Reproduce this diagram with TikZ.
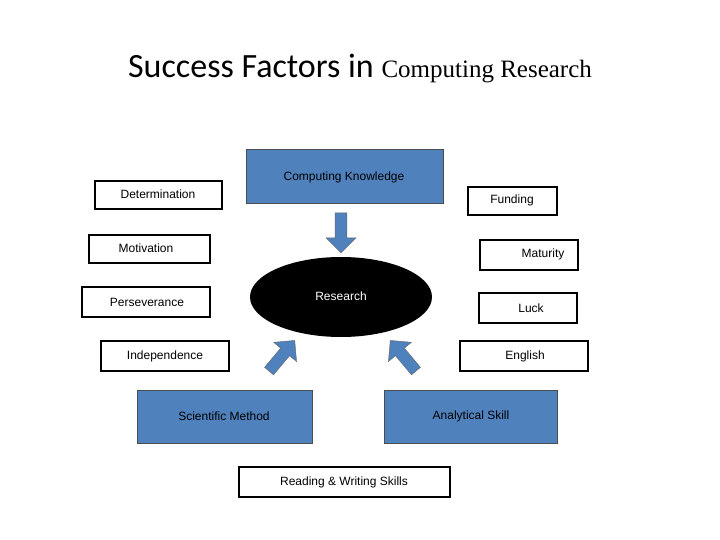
\documentclass[tikz,border=0pt]{standalone}
\usepackage{fontspec}
\setmainfont{Liberation Sans}
\newfontfamily\titlesans{Carlito}
\newfontfamily\titleserif{Liberation Serif}
\usetikzlibrary{shapes.arrows}
\definecolor{bl}{HTML}{4F81BD}
\begin{document}
\begin{tikzpicture}[x=1pt,y=-1pt,
 wbox/.style={draw=black,line width=1.2pt,fill=white},
 bbox/.style={draw=black!70,line width=1pt,fill=bl},
 lbl/.style={font=\fontsize{12}{14}\selectfont,inner sep=0pt},
 arr/.style={single arrow,draw=black!60,fill=bl,minimum height=40,single arrow head extend=5,minimum width=30,inner sep=3pt}]
\useasboundingbox (0,0) rectangle (720,540);
\node[inner sep=0pt,anchor=base] (title) at (360,78) {\titlesans\fontsize{34}{38}\selectfont Success Factors in \titleserif\fontsize{25}{30}\selectfont Computing Research};
\draw[bbox] (246,150) rectangle (443,204); \node[lbl] (ck) at (344,177) {Computing Knowledge};
\draw[wbox] (95,181) rectangle (222,209); \node[lbl] (det) at (158,194) {Determination};
\draw[wbox] (468,187) rectangle (557,215); \node[lbl] (fun) at (512,200) {Funding};
\draw[wbox] (89,235) rectangle (210,263); \node[lbl] (mot) at (146,248) {Motivation};
\draw[wbox] (480,240) rectangle (578,270); \node[lbl] (mat) at (543,254) {Maturity};
\draw[wbox] (82,287) rectangle (210,317); \node[lbl] (per) at (147,302) {Perseverance};
\draw[wbox] (479,293) rectangle (577,323); \node[lbl] (luck) at (531,308) {Luck};
\draw[wbox] (101,341) rectangle (229,371); \node[lbl] (ind) at (165,356) {Independence};
\draw[wbox] (460,341) rectangle (588,371); \node[lbl] (eng) at (525,356) {English};
\draw[bbox] (137,390) rectangle (312,443); \node[lbl] (sm) at (224,416) {Scientific Method};
\draw[bbox] (384,390) rectangle (557,443); \node[lbl] (as) at (471,416) {Analytical Skill};
\draw[wbox] (239,467) rectangle (450,497); \node[lbl] (rw) at (344,482) {Reading \& Writing Skills};
\fill[black] (341,297) ellipse [x radius=91, y radius=40];
\node[lbl,text=white] (res) at (341,296) {Research};
\node[arr,rotate=-90] (a1) at (341,230) {};
\node[arr,rotate=50] (a2) at (280,358) {};
\node[arr,rotate=130] (a3) at (405,358) {};
\end{tikzpicture}
\end{document}
